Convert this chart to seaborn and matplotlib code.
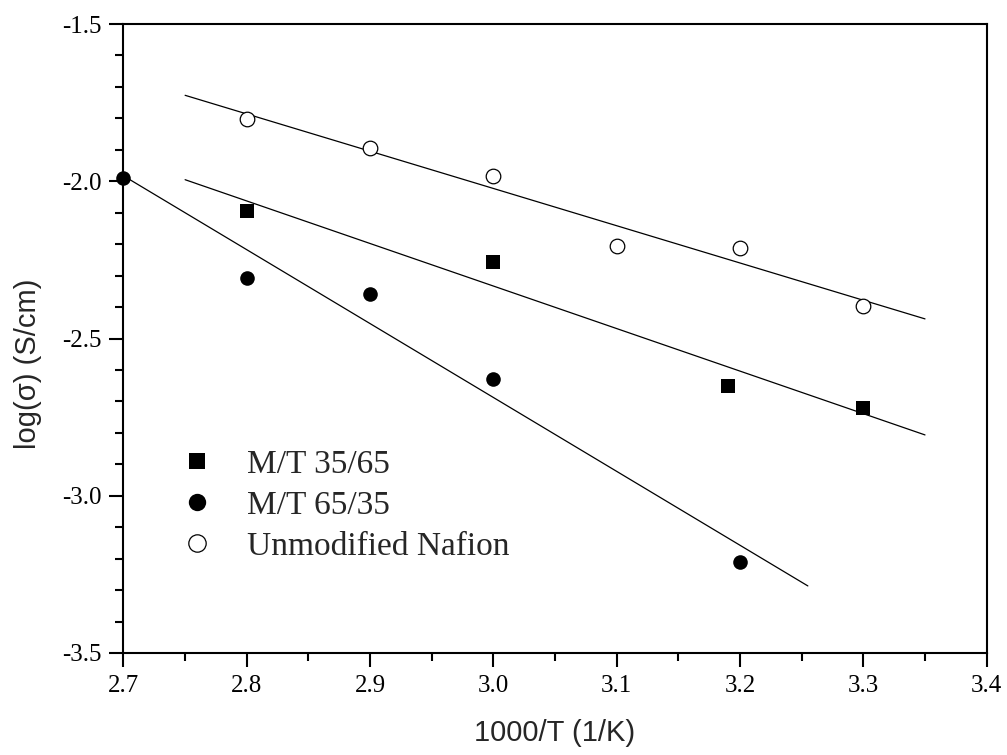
import numpy as np
import pandas as pd
import matplotlib
matplotlib.use("Agg")
import matplotlib.pyplot as plt
from matplotlib.lines import Line2D
from matplotlib.ticker import MultipleLocator
import seaborn as sns

# ---- data ----
x_mt3565 = [2.80, 3.00, 3.19, 3.30]
y_mt3565 = [-2.095, -2.257, -2.651, -2.722]

x_mt6535 = [2.70, 2.80, 2.90, 3.00, 3.20]
y_mt6535 = [-1.990, -2.308, -2.359, -2.629, -3.212]

x_nafion = [2.80, 2.90, 3.00, 3.10, 3.20, 3.30]
y_nafion = [-1.802, -1.894, -1.983, -2.206, -2.212, -2.396]

# x ranges over which each linear fit line is drawn
fit_range_mt3565 = [2.75, 3.35]
fit_range_mt6535 = [2.70, 3.255]
fit_range_nafion = [2.75, 3.35]

labels = ["M/T 35/65", "M/T 65/35", "Unmodified Nafion"]
x_ticks = [2.7, 2.8, 2.9, 3.0, 3.1, 3.2, 3.3, 3.4]
y_ticks = [-3.5, -3.0, -2.5, -2.0, -1.5]

sns.set_theme(style="ticks")
plt.rcParams["font.family"] = ["Liberation Serif", "DejaVu Serif"]

fig = plt.figure(figsize=(10.07, 7.55), dpi=100)
ax = fig.add_axes([0.1226, 0.1351, 0.8572, 0.8331])

series = [
    (x_mt3565, y_mt3565, fit_range_mt3565, "s", "black", "black"),
    (x_mt6535, y_mt6535, fit_range_mt6535, "o", "black", "black"),
    (x_nafion, y_nafion, fit_range_nafion, "o", "white", "black"),
]

handles = []
for (xs, ys, fr, mk, fc, ec), lab in zip(series, labels):
    df = pd.DataFrame({"x": xs, "y": ys})
    # linear fit line
    slope, icpt = np.polyfit(xs, ys, 1)
    fit_df = pd.DataFrame({"x": fr, "y": [slope * v + icpt for v in fr]})
    sns.lineplot(data=fit_df, x="x", y="y", ax=ax, color="black", lw=0.9,
                 legend=False, zorder=2)
    sns.scatterplot(data=df, x="x", y="y", ax=ax, marker=mk,
                    s=(10.5 if mk == "o" else 9.5) ** 2,
                    facecolor=fc, edgecolor=ec, linewidth=0.9 if fc == "white" else 0,
                    legend=False, zorder=3, clip_on=False)
    handles.append(Line2D([], [], linestyle="none", marker=mk,
                          markersize=(12.5 if mk == "o" else 11.5),
                          markerfacecolor=fc, markeredgecolor=ec,
                          markeredgewidth=0.9 if fc == "white" else 0))

ax.set_xlim(2.7, 3.4)
ax.set_ylim(-3.5, -1.5)
ax.set_xticks(x_ticks)
ax.set_yticks(y_ticks)
ax.set_xticklabels([f"{v:.1f}" for v in x_ticks])
ax.set_yticklabels([f"{v:.1f}" for v in y_ticks])
ax.xaxis.set_minor_locator(MultipleLocator(0.05))
ax.yaxis.set_minor_locator(MultipleLocator(0.1))
ax.tick_params(which="major", direction="out", length=10, width=1.5,
               labelsize=18, pad=6, color="black", labelcolor="black",
               top=False, right=False)
ax.tick_params(which="minor", direction="out", length=6, width=1.5,
               top=False, right=False, color="black")
for sp in ax.spines.values():
    sp.set_linewidth(1.5)
    sp.set_color("black")
    sp.set_visible(True)

ax.set_xlabel("1000/T (1/K)", fontsize=21, family=["Liberation Sans", "DejaVu Sans"])
ax.set_ylabel("log(σ) (S/cm)", fontsize=21, family=["Liberation Sans", "DejaVu Sans"])
ax.xaxis.set_label_coords(0.5, -0.105)
ax.yaxis.set_label_coords(-0.094, 0.46)

ax.legend(handles, labels, loc="upper left", bbox_to_anchor=(0.066, 0.324),
          frameon=False, fontsize=24, handlelength=1.0, handletextpad=1.0,
          borderpad=0, borderaxespad=0, labelspacing=0.32)

fig.savefig("out.png", dpi=100, facecolor="white")
